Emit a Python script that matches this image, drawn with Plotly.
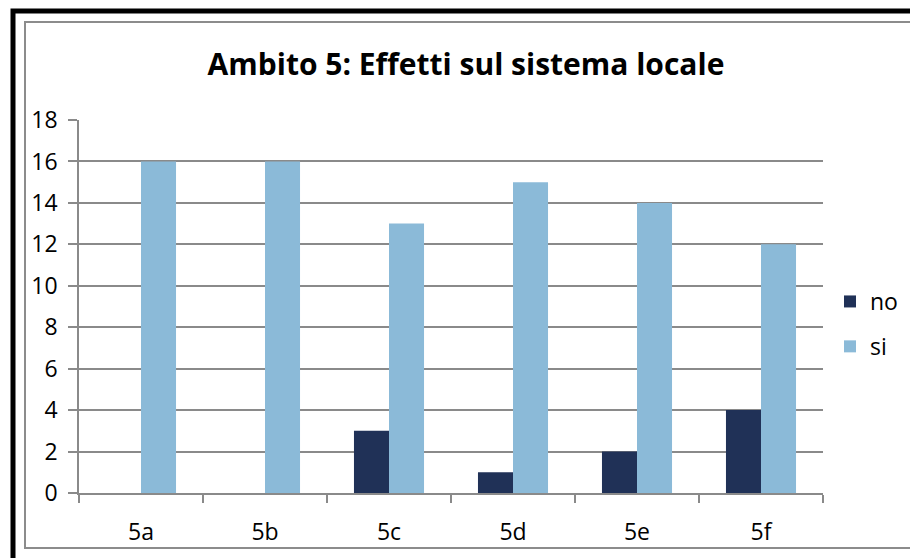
import plotly.graph_objects as go

categories = ["5a", "5b", "5c", "5d", "5e", "5f"]
no_values = [0, 0, 3, 1, 2, 4]
si_values = [16, 16, 13, 15, 14, 12]
y_ticks = list(range(0, 19, 2))

# page body has an 8px margin; work in reference coordinates and shift
OFF = 8
W, H = 918 - OFF, 558 - OFF
L, R, T, B = 79, 823, 120, 493  # reference pixel coords of plot area
pw, ph = R - L, B - T

def px(x):
    return (x - L) / pw

def py(y):
    return (B - y) / ph

FONT = "Open Sans"
grid = "#8a8a8a"

fig = go.Figure()
fig.add_trace(go.Bar(name="no", x=categories, y=no_values, marker_color="#203157",
                     marker_line_width=0, legendgroup="a"))
fig.add_trace(go.Bar(name="si", x=categories, y=si_values, marker_color="#8bbad8",
                     marker_line_width=0, legendgroup="b"))

fig.update_layout(
    width=W, height=H,
    margin=dict(l=L - OFF, r=W - (R - OFF), t=T - OFF, b=H - (B - OFF)),
    paper_bgcolor="white", plot_bgcolor="white",
    barmode="group", bargap=0.435, bargroupgap=0,
    font=dict(family=FONT, size=23, color="black"),
    title=dict(text="<b>Ambito 5: Effetti sul sistema locale</b>",
               x=px(466), xref="paper", xanchor="center",
               y=1 - (64 - OFF) / H, yanchor="middle",
               font=dict(family=FONT, size=30, color="black")),
    legend=dict(x=px(830), xanchor="left", y=py(324), yanchor="middle",
                font=dict(family=FONT, size=23, color="black"),
                bgcolor="rgba(0,0,0,0)", tracegroupgap=12),
    xaxis=dict(type="category", showline=True, linecolor=grid, linewidth=1.5,
               ticks="outside", tickson="boundaries", ticklen=8, tickcolor=grid,
               tickwidth=1.5, showgrid=False, tickfont=dict(size=23),
               ticklabelstandoff=18),
    yaxis=dict(range=[0, 18], tickvals=y_ticks, showline=True, linecolor=grid,
               linewidth=1.5, ticks="outside", ticklen=9, tickcolor=grid,
               tickwidth=1.5, showgrid=True, gridcolor=grid, gridwidth=1.5,
               zeroline=False, tickfont=dict(size=23), ticklabelstandoff=6),
    shapes=[
        dict(type="rect", xref="paper", yref="paper",
             x0=px(25), x1=px(911), y0=py(548), y1=py(22),
             line=dict(color="#8c8c8c", width=2), layer="below"),
        dict(type="rect", xref="paper", yref="paper",
             x0=px(13), x1=px(925), y0=py(565), y1=py(11),
             line=dict(color="black", width=5), layer="above"),
    ],
)

fig.write_html("out.html")
